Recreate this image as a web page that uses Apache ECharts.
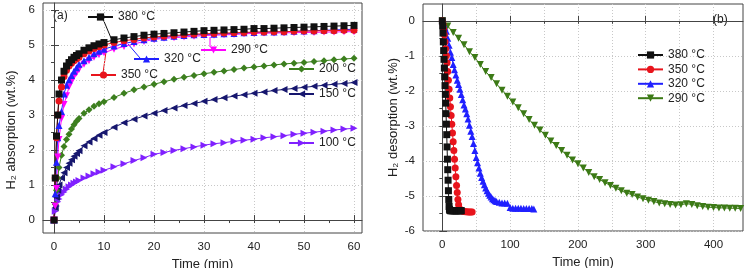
<!DOCTYPE html>
<html>
<head>
<meta charset="utf-8">
<script src="https://cdn.jsdelivr.net/npm/echarts@6/dist/echarts.min.js"></script>
<style>
html, body { margin: 0; padding: 0; background: #fff; }
#chart { width: 748px; height: 268px; }
</style>
</head>
<body>
<div id="chart"></div>
<script>
// ---- (a) absorption, time in min ----
var timeA = [0, 0.25, 0.5, 0.75, 1, 1.5, 2, 2.5, 3, 3.5, 4, 4.5, 5, 6, 7, 8, 9, 10,
    12, 14, 16, 18, 20, 22, 24, 26, 28, 30, 32, 34, 36, 38, 40, 42, 44, 46, 48, 50, 52, 54, 56, 58, 60];
var abs380 = [0, 1.2, 2.4, 3.0, 3.6, 4.0, 4.25, 4.4, 4.5, 4.58, 4.65, 4.7, 4.75, 4.85, 4.92, 4.98, 5.03, 5.07,
    5.15, 5.2, 5.24, 5.28, 5.31, 5.33, 5.35, 5.37, 5.39, 5.41, 5.42, 5.43, 5.44, 5.45, 5.47, 5.47, 5.48, 5.49, 5.5, 5.51, 5.52, 5.53, 5.54, 5.55, 5.56];
var abs350 = [0, 1.2, 2.35, 3.0, 3.4, 3.8, 4.1, 4.28, 4.4, 4.48, 4.55, 4.6, 4.65, 4.75, 4.83, 4.9, 4.95, 5.0,
    5.07, 5.12, 5.16, 5.2, 5.23, 5.25, 5.27, 5.29, 5.31, 5.32, 5.33, 5.34, 5.35, 5.36, 5.37, 5.37, 5.38, 5.38, 5.39, 5.4, 5.4, 5.41, 5.41, 5.42, 5.42];
var abs320 = [0, 0.75, 1.65, 2.35, 2.7, 3.1, 3.6, 3.85, 4.0, 4.13, 4.25, 4.35, 4.45, 4.55, 4.65, 4.75, 4.82, 4.88,
    4.97, 5.04, 5.1, 5.15, 5.19, 5.22, 5.25, 5.27, 5.29, 5.3, 5.31, 5.32, 5.33, 5.35, 5.36, 5.37, 5.37, 5.38, 5.39, 5.4, 5.41, 5.42, 5.43, 5.44, 5.45];
var abs290 = [0, 0.4, 0.9, 1.8, 2.3, 2.9, 3.3, 3.55, 3.8, 3.95, 4.1, 4.2, 4.3, 4.45, 4.55, 4.65, 4.72, 4.78,
    4.88, 4.96, 5.03, 5.1, 5.16, 5.19, 5.21, 5.23, 5.25, 5.27, 5.28, 5.29, 5.3, 5.32, 5.33, 5.34, 5.34, 5.35, 5.35, 5.36, 5.36, 5.37, 5.37, 5.38, 5.38];
var abs200 = [0, 0.45, 0.85, 1.2, 1.5, 1.85, 2.1, 2.3, 2.45, 2.6, 2.72, 2.82, 2.9, 3.05, 3.15, 3.25, 3.32, 3.38,
    3.5, 3.62, 3.72, 3.8, 3.88, 3.95, 4.02, 4.08, 4.13, 4.18, 4.22, 4.26, 4.3, 4.34, 4.37, 4.4, 4.43, 4.46, 4.48, 4.5, 4.53, 4.55, 4.58, 4.6, 4.62];
var abs150 = [0, 0.35, 0.65, 0.85, 1.0, 1.2, 1.35, 1.5, 1.62, 1.72, 1.82, 1.9, 1.98, 2.12, 2.23, 2.33, 2.42, 2.5,
    2.65, 2.78, 2.88, 2.97, 3.05, 3.13, 3.2, 3.27, 3.33, 3.39, 3.44, 3.49, 3.54, 3.58, 3.62, 3.66, 3.7, 3.73, 3.76, 3.79, 3.82, 3.85, 3.88, 3.9, 3.93];
var abs100 = [0, 0.25, 0.4, 0.52, 0.6, 0.72, 0.8, 0.88, 0.95, 1.0, 1.05, 1.09, 1.13, 1.2, 1.26, 1.32, 1.37, 1.42,
    1.52, 1.61, 1.7, 1.78, 1.88, 1.93, 1.99, 2.04, 2.09, 2.14, 2.18, 2.21, 2.25, 2.28, 2.31, 2.35, 2.38, 2.41, 2.45, 2.48, 2.51, 2.54, 2.57, 2.6, 2.62];

// ---- (b) desorption ----
var timeB380 = [0, 0.5, 1, 1.5, 2, 2.5, 3, 3.5, 4, 4.5, 5, 5.5, 6, 6.5, 7, 7.5, 8, 8.5, 9, 9.5, 10, 10.5, 11,
    12, 13, 14, 15, 16, 17, 18, 19, 20, 21, 22, 23, 24, 25, 26, 27, 28];
var des380 = [0, -0.15, -0.35, -0.6, -0.85, -1.1, -1.35, -1.6, -1.85, -2.1, -2.35, -2.65, -2.95, -3.25, -3.6, -3.95, -4.25, -4.55, -4.85, -5.1, -5.3, -5.38, -5.41,
    -5.42, -5.42, -5.42, -5.42, -5.42, -5.42, -5.42, -5.42, -5.42, -5.42, -5.42, -5.42, -5.42, -5.42, -5.42, -5.42, -5.42];
var timeB350 = [0, 1, 2, 3, 4, 5, 6, 7, 8, 9, 10, 11, 12, 13, 14, 15, 16, 17, 18, 19, 20, 21, 22, 23, 24, 25, 26,
    28, 30, 32, 34, 36, 38, 40, 42, 44];
var des350 = [0, -0.1, -0.25, -0.4, -0.6, -0.8, -1.0, -1.2, -1.45, -1.7, -1.95, -2.2, -2.45, -2.7, -2.95, -3.2, -3.45, -3.7, -3.95, -4.2, -4.45, -4.7, -4.9, -5.1, -5.25, -5.35, -5.4,
    -5.42, -5.43, -5.44, -5.45, -5.45, -5.46, -5.46, -5.46, -5.46];
var timeB320 = [0, 2, 4, 6, 8, 10, 12, 14, 16, 18, 20, 22, 24, 26, 28, 30, 32, 34, 36, 38, 40, 42, 44, 46, 48, 50,
    52, 54, 56, 58, 60, 62, 64, 66, 68, 70, 72, 74, 76, 78, 80, 84, 88, 92, 96, 100, 104, 108, 112, 116, 120, 124, 128, 132, 135];
var des320 = [0, -0.1, -0.2, -0.3, -0.5, -0.7, -0.9, -1.05, -1.25, -1.4, -1.55, -1.7, -1.82, -1.95, -2.1, -2.25, -2.4, -2.52, -2.65, -2.8, -2.98, -3.15, -3.3, -3.5, -3.7, -3.9,
    -4.05, -4.2, -4.35, -4.47, -4.58, -4.68, -4.77, -4.85, -4.92, -4.98, -5.03, -5.08, -5.11, -5.14, -5.16, -5.18, -5.2, -5.2, -5.21, -5.33, -5.35, -5.35, -5.35, -5.35, -5.36, -5.36, -5.36, -5.36, -5.37];
var timeB290 = [0, 8, 16, 24, 32, 40, 48, 56, 64, 72, 80, 88, 96, 104, 112, 120, 128, 136, 144, 152, 160, 168, 176, 184, 192, 200,
    208, 216, 224, 232, 240, 248, 256, 264, 272, 280, 288, 296, 304, 312, 320, 328, 336, 344, 352, 360, 368, 376, 384, 392, 400, 408, 416, 424, 432, 440];
var des290 = [0, -0.15, -0.33, -0.5, -0.68, -0.88, -1.05, -1.25, -1.45, -1.62, -1.8, -1.98, -2.15, -2.32, -2.48, -2.65, -2.82, -2.98, -3.12, -3.27, -3.43, -3.56, -3.7, -3.84, -3.97, -4.08,
    -4.2, -4.33, -4.45, -4.53, -4.62, -4.7, -4.78, -4.85, -4.92, -4.96, -5.03, -5.08, -5.12, -5.16, -5.2, -5.22, -5.24, -5.26, -5.25, -5.22, -5.24, -5.28, -5.3, -5.32, -5.33, -5.34, -5.34, -5.35, -5.35, -5.36];

// tick values
var ticksAX = [0, 10, 20, 30, 40, 50, 60];
var minorAX = [0, 5, 10, 15, 20, 25, 30, 35, 40, 45, 50, 55, 60];
var ticksAY = [0, 1, 2, 3, 4, 5, 6];
var minorAY = [0, 0.5, 1, 1.5, 2, 2.5, 3, 3.5, 4, 4.5, 5, 5.5, 6];
var ticksBX = [0, 100, 200, 300, 400];
var minorBX = [0, 50, 100, 150, 200, 250, 300, 350, 400];
var ticksBY = [-6, -5, -4, -3, -2, -1, 0];
var minorBY = [-6, -5.5, -5, -4.5, -4, -3.5, -3, -2.5, -2, -1.5, -1, -0.5, 0];

var labels = {
    a380: '380 °C', a350: '350 °C', a320: '320 °C', a290: '290 °C', a200: '200 °C', a150: '150 °C', a100: '100 °C',
    b380: '380 °C', b350: '350 °C', b320: '320 °C', b290: '290 °C'
};

var FONT = 'Liberation Sans, Arial, sans-serif';
var AXIS_COLOR = '#444';
var TEXT_COLOR = '#222';

function zip(xs, ys) {
    var out = [];
    for (var i = 0; i < xs.length; i++) {
        out.push([xs[i], ys[i]]);
    }
    return out;
}

// main axis: long ticks + labels
function mainAxis(grid, min, max, ticks, split, name, nameGap, namePad) {
    return {
        type: 'value', gridIndex: grid, min: min, max: max,
        name: name, nameLocation: 'middle', nameGap: nameGap,
        nameTextStyle: {fontFamily: FONT, fontSize: 13, color: TEXT_COLOR, padding: namePad || 0},
        axisLine: {show: true, lineStyle: {color: AXIS_COLOR, width: 1}},
        axisTick: {show: true, inside: true, length: 5, customValues: ticks, lineStyle: {color: AXIS_COLOR}},
        axisLabel: {show: true, customValues: ticks, fontFamily: FONT, fontSize: 11.5, color: TEXT_COLOR, margin: 8},
        splitLine: {show: split, lineStyle: {color: '#c8c8c8', type: [1, 2], width: 1}}
    };
}

// overlay axis: short (minor) ticks only
function minorAxis(grid, min, max, ticks, split) {
    return {
        type: 'value', gridIndex: grid, min: min, max: max,
        axisLine: {show: false},
        axisTick: {show: true, inside: true, length: 3, customValues: ticks, lineStyle: {color: AXIS_COLOR}},
        axisLabel: {show: false},
        splitLine: {show: split, lineStyle: {color: '#c8c8c8', type: [1, 2], width: 1}}
    };
}

function lineSeries(name, color, symbol, rotate, xi, yi, data) {
    return {
        name: name, type: 'line', xAxisIndex: xi, yAxisIndex: yi,
        data: data, symbol: symbol, symbolSize: 7, symbolRotate: rotate,
        showAllSymbol: true,
        lineStyle: {color: color, width: 1},
        itemStyle: {color: color},
        z: 3
    };
}

function oneLegend(name, left, top) {
    return {
        data: [name], left: left, top: top, padding: 0,
        itemWidth: 25, itemHeight: 9, selectedMode: false,
        formatter: function (n) { return labels[n]; },
        textStyle: {fontFamily: FONT, fontSize: 12, color: TEXT_COLOR}
    };
}

var myChart = echarts.init(document.getElementById('chart'));
var option = {
    animation: false,
    backgroundColor: '#fff',
    grid: [
        {left: 43, top: 3, width: 319, height: 230, show: true, borderColor: AXIS_COLOR, borderWidth: 1, outerBoundsMode: 'none'},
        {left: 423, top: 4, width: 320, height: 227, show: true, borderColor: AXIS_COLOR, borderWidth: 1, outerBoundsMode: 'none'}
    ],
    xAxis: [
        mainAxis(0, -2.2, 61.6, ticksAX, true, 'Time (min)', 20),
        minorAxis(0, -2.2, 61.6, minorAX, false),
        mainAxis(1, -28.5, 443.5, ticksBX, false, 'Time (min)', 24),
        minorAxis(1, -28.5, 443.5, minorBX, true)
    ],
    yAxis: [
        mainAxis(0, -0.37, 6.2, ticksAY, true, 'H₂ absorption (wt.%)', 25, [0, 24, 0, 0]),
        minorAxis(0, -0.37, 6.2, minorAY, false),
        mainAxis(1, -6, 0.48, ticksBY, true, 'H₂ desorption (wt.%)', 23),
        minorAxis(1, -6, 0.48, minorBY, false)
    ],
    legend: [
        oneLegend('a380', 87, 11),
        oneLegend('a350', 90, 69),
        oneLegend('a320', 133, 53),
        oneLegend('a290', 200, 44),
        oneLegend('a200', 288, 63),
        oneLegend('a150', 288, 88),
        oneLegend('a100', 288, 137),
        {
            data: ['b380', 'b350', 'b320', 'b290'], orient: 'vertical', left: 637, top: 49, padding: 0,
            itemWidth: 25, itemHeight: 9, itemGap: 2.4, selectedMode: false,
            formatter: function (n) { return labels[n]; },
            textStyle: {fontFamily: FONT, fontSize: 12, color: TEXT_COLOR}
        }
    ],
    graphic: [
        {type: 'text', left: 53, top: 10, style: {text: '(a)', fontFamily: FONT, fontSize: 12, fill: TEXT_COLOR}},
        {type: 'text', left: 713, top: 14, style: {text: '(b)', fontFamily: FONT, fontSize: 12, fill: TEXT_COLOR}},
        // leader lines from the labels to their curves
        {type: 'line', shape: {x1: 103, y1: 19, x2: 111, y2: 38}, style: {stroke: '#111', lineWidth: 1}},
        {type: 'line', shape: {x1: 103, y1: 73, x2: 107, y2: 45}, style: {stroke: '#e8141c', lineWidth: 1}},
        {type: 'line', shape: {x1: 140, y1: 58, x2: 128, y2: 44}, style: {stroke: '#2020ff', lineWidth: 1}},
        {type: 'line', shape: {x1: 210, y1: 47, x2: 210, y2: 37}, style: {stroke: '#ff00ff', lineWidth: 1}}
    ],
    series: [
        lineSeries('a100', '#8020ff', 'triangle', -90, 0, 0, zip(timeA, abs100)),
        lineSeries('a150', '#16166e', 'triangle', 90, 0, 0, zip(timeA, abs150)),
        lineSeries('a200', '#3c7f1e', 'diamond', 0, 0, 0, zip(timeA, abs200)),
        lineSeries('a290', '#ff00ff', 'triangle', 180, 0, 0, zip(timeA, abs290)),
        lineSeries('a320', '#2020ff', 'triangle', 0, 0, 0, zip(timeA, abs320)),
        lineSeries('a350', '#e8141c', 'circle', 0, 0, 0, zip(timeA, abs350)),
        lineSeries('a380', '#111111', 'rect', 0, 0, 0, zip(timeA, abs380)),
        lineSeries('b290', '#3c7a16', 'triangle', 180, 2, 2, zip(timeB290, des290)),
        lineSeries('b320', '#2020ff', 'triangle', 0, 2, 2, zip(timeB320, des320)),
        lineSeries('b350', '#e8141c', 'circle', 0, 2, 2, zip(timeB350, des350)),
        lineSeries('b380', '#111111', 'rect', 0, 2, 2, zip(timeB380, des380))
    ]
};
myChart.setOption(option);
</script>
</body>
</html>
